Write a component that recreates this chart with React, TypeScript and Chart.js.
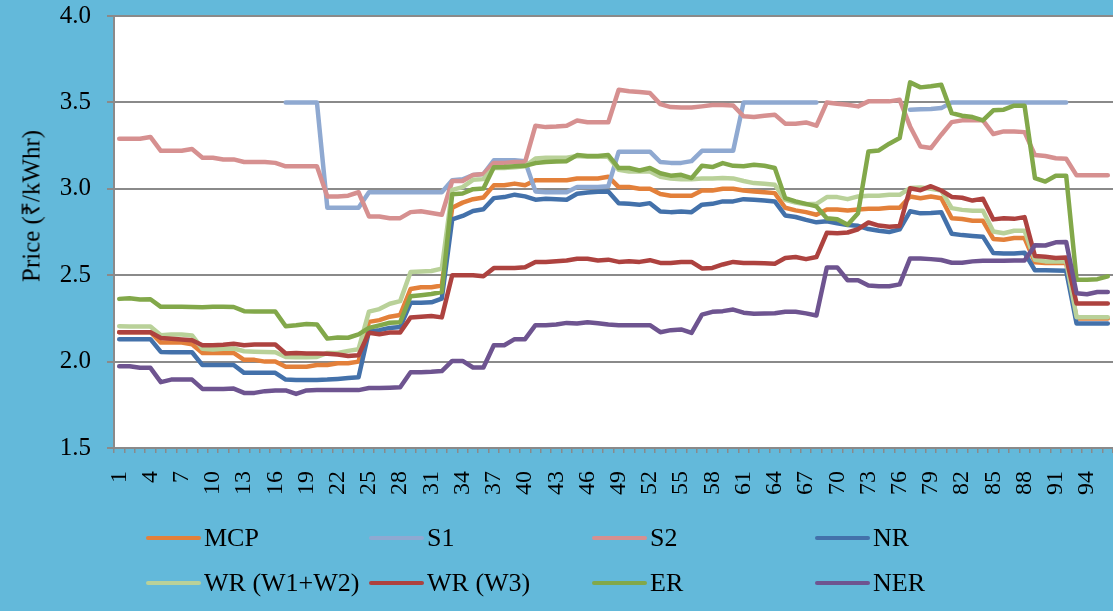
import React, { useEffect, useRef } from "react";
import { Chart, registerables } from "chart.js";

Chart.register(...registerables);

// ---------- data ----------
const categories = [
  "1","2","3","4","5","6","7","8","9","10","11","12","13","14","15","16",
  "17","18","19","20","21","22","23","24","25","26","27","28","29","30","31","32",
  "33","34","35","36","37","38","39","40","41","42","43","44","45","46","47","48",
  "49","50","51","52","53","54","55","56","57","58","59","60","61","62","63","64",
  "65","66","67","68","69","70","71","72","73","74","75","76","77","78","79","80",
  "81","82","83","84","85","86","87","88","89","90","91","92","93","94","95","96",
];

const xTickLabels = [
  "1","4","7","10","13","16","19","22","25","28","31","34","37","40","43","46",
  "49","52","55","58","61","64","67","70","73","76","79","82","85","88","91","94",
];

const yTicks = [1.5, 2.0, 2.5, 3.0, 3.5, 4.0];

const seriesNames = ["MCP", "S1", "S2", "NR", "WR (W1+W2)", "WR (W3)", "ER", "NER"];

const mcp = [
  2.17, 2.17, 2.17, 2.17, 2.11, 2.11, 2.11, 2.10, 2.05, 2.05, 2.05, 2.05, 2.01, 2.01, 2.00, 2.00,
  1.97, 1.97, 1.97, 1.98, 1.98, 1.99, 1.99, 2.00, 2.23, 2.24, 2.26, 2.27, 2.42, 2.43, 2.43, 2.44,
  2.89, 2.92, 2.94, 2.95, 3.02, 3.02, 3.03, 3.02, 3.05, 3.05, 3.05, 3.05, 3.06, 3.06, 3.06, 3.07,
  3.01, 3.01, 3.00, 3.00, 2.97, 2.96, 2.96, 2.96, 2.99, 2.99, 3.00, 3.00, 2.99, 2.985, 2.98, 2.975,
  2.89, 2.875, 2.865, 2.85, 2.88, 2.88, 2.875, 2.88, 2.885, 2.885, 2.89, 2.89, 2.955, 2.945, 2.955, 2.945,
  2.83, 2.825, 2.815, 2.815, 2.71, 2.705, 2.715, 2.715, 2.575, 2.57, 2.57, 2.57, 2.25, 2.25, 2.25, 2.25,
];

const s1 = [
  null, null, null, null, null, null, null, null, null, null, null, null, null, null, null, null,
  3.5, 3.5, 3.5, 3.5, 2.89, 2.89, 2.89, 2.89, 2.98, 2.98, 2.98, 2.98, 2.98, 2.98, 2.98, 2.98,
  3.05, 3.055, 3.08, 3.085, 3.165, 3.165, 3.165, 3.16, 2.985, 2.98, 2.98, 2.98, 3.01, 3.01, 3.01, 3.015,
  3.215, 3.215, 3.215, 3.215, 3.155, 3.15, 3.15, 3.16, 3.22, 3.22, 3.22, 3.22, 3.5, 3.5, 3.5, 3.5,
  3.5, 3.5, 3.5, 3.5, null, null, null, null, null, null, null, null, 3.458, 3.46, 3.462, 3.467,
  3.5, 3.5, 3.5, 3.5, 3.5, 3.5, 3.5, 3.5, 3.5, 3.5, 3.5, 3.5, null, null, null, null,
];

const s2 = [
  3.29, 3.29, 3.29, 3.30, 3.22, 3.22, 3.22, 3.23, 3.18, 3.18, 3.17, 3.17, 3.155, 3.155, 3.155, 3.15,
  3.13, 3.13, 3.13, 3.13, 2.955, 2.955, 2.96, 2.98, 2.84, 2.84, 2.83, 2.83, 2.865, 2.87, 2.86, 2.85,
  3.045, 3.045, 3.08, 3.085, 3.15, 3.15, 3.155, 3.155, 3.365, 3.357, 3.36, 3.365, 3.395, 3.385, 3.385, 3.385,
  3.573, 3.564, 3.56, 3.554, 3.49, 3.473, 3.47, 3.47, 3.477, 3.485, 3.485, 3.482, 3.42, 3.415, 3.423, 3.429,
  3.377, 3.377, 3.384, 3.365, 3.50, 3.492, 3.486, 3.477, 3.506, 3.506, 3.506, 3.515, 3.361, 3.245, 3.236, 3.313,
  3.386, 3.396, 3.396, 3.396, 3.317, 3.332, 3.332, 3.328, 3.195, 3.19, 3.177, 3.174, 3.078, 3.078, 3.078, 3.078,
];

const nr = [
  2.13, 2.13, 2.13, 2.13, 2.056, 2.054, 2.054, 2.054, 1.98, 1.98, 1.98, 1.98, 1.935, 1.935, 1.935, 1.935,
  1.896, 1.894, 1.894, 1.894, 1.896, 1.90, 1.905, 1.91, 2.175, 2.182, 2.195, 2.20, 2.34, 2.34, 2.343, 2.365,
  2.823, 2.843, 2.872, 2.882, 2.946, 2.952, 2.966, 2.956, 2.937, 2.942, 2.94, 2.937, 2.971, 2.979, 2.983, 2.985,
  2.917, 2.913, 2.908, 2.917, 2.869, 2.865, 2.868, 2.865, 2.908, 2.913, 2.927, 2.927, 2.94, 2.936, 2.932, 2.927,
  2.846, 2.837, 2.82, 2.806, 2.812, 2.80, 2.79, 2.786, 2.767, 2.757, 2.75, 2.765, 2.87, 2.858, 2.86, 2.864,
  2.74, 2.732, 2.727, 2.723, 2.628, 2.625, 2.625, 2.63, 2.528, 2.528, 2.527, 2.526, 2.22, 2.22, 2.22, 2.22,
];

const wr12 = [
  2.205, 2.203, 2.203, 2.203, 2.153, 2.157, 2.157, 2.151, 2.074, 2.07, 2.074, 2.076, 2.06, 2.057, 2.055, 2.054,
  2.027, 2.025, 2.025, 2.027, 2.05, 2.05, 2.062, 2.072, 2.289, 2.304, 2.335, 2.35, 2.518, 2.522, 2.524, 2.538,
  2.994, 3.01, 3.052, 3.056, 3.12, 3.12, 3.125, 3.13, 3.175, 3.18, 3.18, 3.18, 3.19, 3.185, 3.185, 3.185,
  3.11, 3.10, 3.10, 3.10, 3.07, 3.06, 3.055, 3.055, 3.06, 3.06, 3.062, 3.06, 3.045, 3.033, 3.029, 3.023,
  2.936, 2.921, 2.911, 2.913, 2.952, 2.952, 2.94, 2.956, 2.96, 2.96, 2.965, 2.965, 3.004, 3.008, 3.0, 2.99,
  2.888, 2.878, 2.873, 2.873, 2.753, 2.743, 2.757, 2.757, 2.589, 2.58, 2.58, 2.58, 2.257, 2.257, 2.257, 2.257,
];

const wr3 = [
  2.17, 2.17, 2.17, 2.17, 2.137, 2.132, 2.128, 2.124, 2.095, 2.095, 2.097, 2.103, 2.095, 2.099, 2.099, 2.099,
  2.047, 2.05, 2.047, 2.047, 2.045, 2.041, 2.033, 2.037, 2.167, 2.158, 2.168, 2.169, 2.255, 2.26, 2.264, 2.256,
  2.5, 2.5, 2.5, 2.494, 2.541, 2.542, 2.542, 2.546, 2.577, 2.577, 2.581, 2.585, 2.595, 2.595, 2.585, 2.59,
  2.577, 2.581, 2.577, 2.587, 2.571, 2.571, 2.577, 2.577, 2.539, 2.542, 2.562, 2.577, 2.571, 2.571, 2.569, 2.566,
  2.599, 2.605, 2.593, 2.605, 2.745, 2.743, 2.747, 2.766, 2.805, 2.787, 2.78, 2.785, 3.003, 2.992, 3.015, 2.99,
  2.953, 2.948, 2.932, 2.943, 2.823, 2.83, 2.826, 2.836, 2.611, 2.607, 2.6, 2.603, 2.336, 2.336, 2.336, 2.336,
];

const er = [
  2.363, 2.367, 2.36, 2.361, 2.317, 2.317, 2.317, 2.316, 2.315, 2.317, 2.317, 2.316, 2.292, 2.29, 2.29, 2.29,
  2.205, 2.21, 2.218, 2.215, 2.133, 2.139, 2.138, 2.158, 2.195, 2.21, 2.225, 2.228, 2.378, 2.384, 2.391, 2.403,
  2.968, 2.973, 2.998, 3.002, 3.125, 3.126, 3.13, 3.133, 3.149, 3.155, 3.158, 3.16, 3.195, 3.19, 3.19, 3.195,
  3.12, 3.12, 3.106, 3.12, 3.09, 3.076, 3.081, 3.062, 3.133, 3.126, 3.149, 3.133, 3.13, 3.139, 3.133, 3.12,
  2.946, 2.927, 2.913, 2.898, 2.83, 2.824, 2.792, 2.859, 3.216, 3.222, 3.261, 3.294, 3.616, 3.587, 3.593, 3.602,
  3.438, 3.423, 3.415, 3.396, 3.454, 3.458, 3.481, 3.481, 3.062, 3.042, 3.075, 3.075, 2.474, 2.474, 2.477, 2.493,
];

const ner = [
  1.973, 1.973, 1.964, 1.964, 1.881, 1.896, 1.896, 1.896, 1.842, 1.842, 1.842, 1.844, 1.819, 1.819, 1.829, 1.833,
  1.833, 1.813, 1.833, 1.835, 1.835, 1.835, 1.835, 1.835, 1.847, 1.847, 1.849, 1.852, 1.938, 1.939, 1.941, 1.945,
  2.004, 2.004, 1.966, 1.966, 2.095, 2.095, 2.13, 2.13, 2.211, 2.211, 2.215, 2.224, 2.22, 2.228, 2.222, 2.215,
  2.211, 2.211, 2.211, 2.211, 2.17, 2.182, 2.186, 2.166, 2.272, 2.288, 2.292, 2.301, 2.283, 2.277, 2.278, 2.28,
  2.289, 2.288, 2.279, 2.267, 2.545, 2.545, 2.471, 2.471, 2.44, 2.436, 2.436, 2.447, 2.597, 2.597, 2.593, 2.588,
  2.572, 2.572, 2.58, 2.583, 2.584, 2.584, 2.585, 2.585, 2.673, 2.672, 2.69, 2.692, 2.395, 2.39, 2.403, 2.403,
];

const seriesValues = [mcp, s1, s2, nr, wr12, wr3, er, ner];

// ---------- style ----------
const seriesColors = [
  "#E3803A", "#8FA9D1", "#D69090", "#4371AA", "#B9D199", "#AD423F", "#82A84A", "#6E5490",
];
const BG = "#63B9DA";
const GRID = "#8a8a8a";
const FONT = '"Liberation Serif", "Times New Roman", serif';

const plotBg = {
  id: "plotBg",
  beforeDraw(chart: any) {
    const { ctx, chartArea: a } = chart;
    ctx.save();
    ctx.fillStyle = "#ffffff";
    ctx.fillRect(a.left, a.top, a.right - a.left, a.bottom - a.top);
    ctx.restore();
  },
};

export default function App() {
  const ref = useRef<HTMLCanvasElement>(null);

  useEffect(() => {
    if (!ref.current) return;
    const chart = new Chart(ref.current, {
      type: "line",
      data: {
        labels: categories,
        datasets: seriesNames.map((name, i) => ({
          label: name,
          data: seriesValues[i],
          borderColor: seriesColors[i],
          backgroundColor: seriesColors[i],
          borderWidth: 4.5,
          pointRadius: 0,
          pointHoverRadius: 0,
          tension: 0,
          spanGaps: false,
          borderCapStyle: "round",
          borderJoinStyle: "round",
          order: seriesNames.length - 1 - i,
        })),
      },
      options: {
        responsive: false,
        animation: false,
        events: [],
        layout: { padding: { top: 16, right: 0, left: 0, bottom: 0 } },
        plugins: {
          legend: { display: false },
          tooltip: { enabled: false },
          title: { display: false },
        },
        scales: {
          x: {
            type: "category",
            offset: true,
            grid: {
              offset: true,
              drawOnChartArea: false,
              drawTicks: true,
              tickLength: 5,
              color: GRID,
              lineWidth: 1.5,
            },
            border: { display: true, color: GRID, width: 2 },
            ticks: {
              autoSkip: false,
              minRotation: 90,
              maxRotation: 90,
              padding: 18,
              color: "#000",
              font: { family: FONT, size: 24 },
              callback: (_v: any, index: number) =>
                xTickLabels.includes(categories[index]) ? categories[index] : "",
            },
            afterFit: (s: any) => {
              s.height = 163;
              s.paddingLeft = 0;
              s.paddingRight = 0;
            },
          },
          y: {
            min: 1.5,
            max: 4.0,
            afterBuildTicks: (s: any) => {
              s.ticks = yTicks.map((v) => ({ value: v }));
            },
            ticks: {
              padding: 16,
              color: "#000",
              font: { family: FONT, size: 25 },
              callback: (v: any) => Number(v).toFixed(1),
            },
            grid: { color: GRID, lineWidth: 2, tickLength: 7, drawTicks: true },
            border: { display: true, color: GRID, width: 2 },
            afterFit: (s: any) => {
              s.width = 114;
              s.paddingTop = 0;
              s.paddingBottom = 0;
            },
          },
        },
      } as any,
      plugins: [plotBg],
    });
    return () => chart.destroy();
  }, []);

  const colX = [146, 369, 592, 815];
  const rowY = [537.5, 582.5];

  return (
    <div
      style={{
        position: "fixed",
        left: 0,
        top: 0,
        width: 1113,
        height: 611,
        background: BG,
        overflow: "hidden",
        fontFamily: FONT,
        color: "#000",
      }}
    >
      <canvas
        ref={ref}
        width={1113}
        height={611}
        style={{ position: "absolute", left: 0, top: 0, width: 1113, height: 611 }}
      />
      <div
        style={{
          position: "absolute",
          left: 31,
          top: 206,
          transform: "translate(-50%, -50%) rotate(-90deg)",
          whiteSpace: "nowrap",
          fontSize: 25,
          lineHeight: "25px",
        }}
      >
        Price (₹/kWhr)
      </div>
      {seriesNames.map((name, i) => {
        const col = i % 4;
        const row = Math.floor(i / 4);
        const x = colX[col];
        const y = rowY[row];
        return (
          <React.Fragment key={name}>
            <div
              style={{
                position: "absolute",
                left: x,
                top: y - 2,
                width: 55,
                height: 4.5,
                borderRadius: 2.5,
                background: seriesColors[i],
              }}
            />
            <div
              style={{
                position: "absolute",
                left: x + 58,
                top: y - 13,
                fontSize: 26,
                lineHeight: "26px",
                whiteSpace: "nowrap",
              }}
            >
              {name}
            </div>
          </React.Fragment>
        );
      })}
    </div>
  );
}
